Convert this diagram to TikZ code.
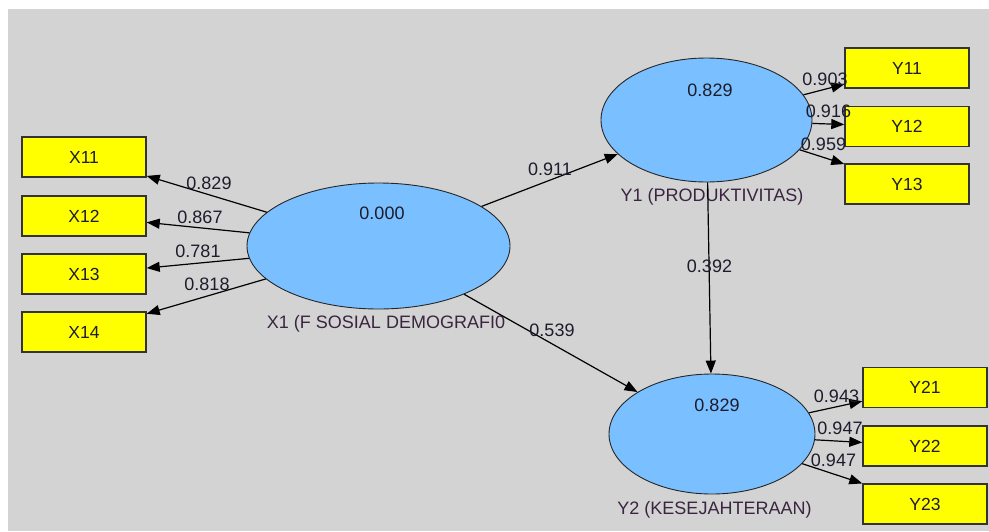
\documentclass[tikz,border=0pt]{standalone}
\usepackage{fontspec}
\setmainfont{Liberation Sans}
\usetikzlibrary{arrows.meta, shapes.geometric}

\definecolor{bggrey}{HTML}{D3D3D3}
\definecolor{latentblue}{HTML}{7ABFFF}
\definecolor{indyellow}{HTML}{FFFF00}
\definecolor{namepurple}{HTML}{3A2540}
\definecolor{coefdark}{HTML}{1C1C2C}

\tikzset{
	latent/.style={ellipse, draw=black!85, fill=latentblue, line width=0.9pt, inner sep=0pt},
	indicator/.style={rectangle, draw=black!80, fill=indyellow, line width=1.4pt,
		minimum width=124, minimum height=40, inner sep=0pt,
		font=\fontsize{17.5}{19}\selectfont, text=coefdark},
	latname/.style={font=\fontsize{18}{20}\selectfont, text=namepurple, text depth=0pt, inner sep=0pt},
	coef/.style={font=\fontsize{18}{20}\selectfont, text=coefdark, inner sep=0pt}
}

\begin{document}
		\begin{tikzpicture}[x=1pt, y=-1pt]
			\useasboundingbox (0,0) rectangle (989,531);
			\fill[bggrey] (8,9) rectangle (989,531);

			% latent variables
			\node[latent, minimum width=263, minimum height=126] (x1) at (378.5,246) {};
			\node[latent, minimum width=211, minimum height=124] (y1) at (706.5,120) {};
			\node[latent, minimum width=206, minimum height=120] (y2) at (712,434) {};

			\node[coef] (x1val) at (382,213) {0.000};
			\node[coef] (y1val) at (710,90) {0.829};
			\node[coef] (y2val) at (717,405) {0.829};

			\node[latname] (x1name) at (386,322) {X1 (F SOSIAL DEMOGRAFI0};
			\node[latname] (y1name) at (712,195) {Y1 (PRODUKTIVITAS)};
			\node[latname] (y2name) at (714.5,508) {Y2 (KESEJAHTERAAN)};

			% indicators
			\foreach \i/\y in {1/157,2/216,3/274,4/332}
			{
				\node[indicator] (x1\i) at (84,\y) {X1\i};
			}
			\foreach \i/\y in {1/68,2/126.5,3/184}
			{
				\node[indicator] (y1\i) at (907,\y) {Y1\i};
			}
			\foreach \i/\y in {1/387.5,2/446,3/504}
			{
				\node[indicator] (y2\i) at (925,\y) {Y2\i};
			}

			\begin{scope}[-{Triangle[length=13pt,width=10pt]}, line width=1.2pt]
				\foreach \i in {1,...,4}
					\draw (x1) -- (x1\i);
				\foreach \i in {1,2,3}
				{
					\draw (y1) -- (y1\i);
					\draw (y2) -- (y2\i);
				}
				\draw (x1) -- (y1);
				\draw (x1) -- (y2);
				\draw (y1) -- (y2);
			\end{scope}

			% path coefficients and loadings
			\foreach \v/\x/\y [count=\n] in {0.829/209/183, 0.867/200/217, 0.781/198/251, 0.818/207/284,
				0.911/550/169, 0.539/552/330, 0.392/709.5/266,
				0.903/825/79, 0.916/828.5/111, 0.959/823.5/144,
				0.943/836.5/396, 0.947/840/428, 0.947/833.5/460}
			{
				\node[coef] (coef\n) at (\x,\y) {\v};
			}
		\end{tikzpicture}
\end{document}
